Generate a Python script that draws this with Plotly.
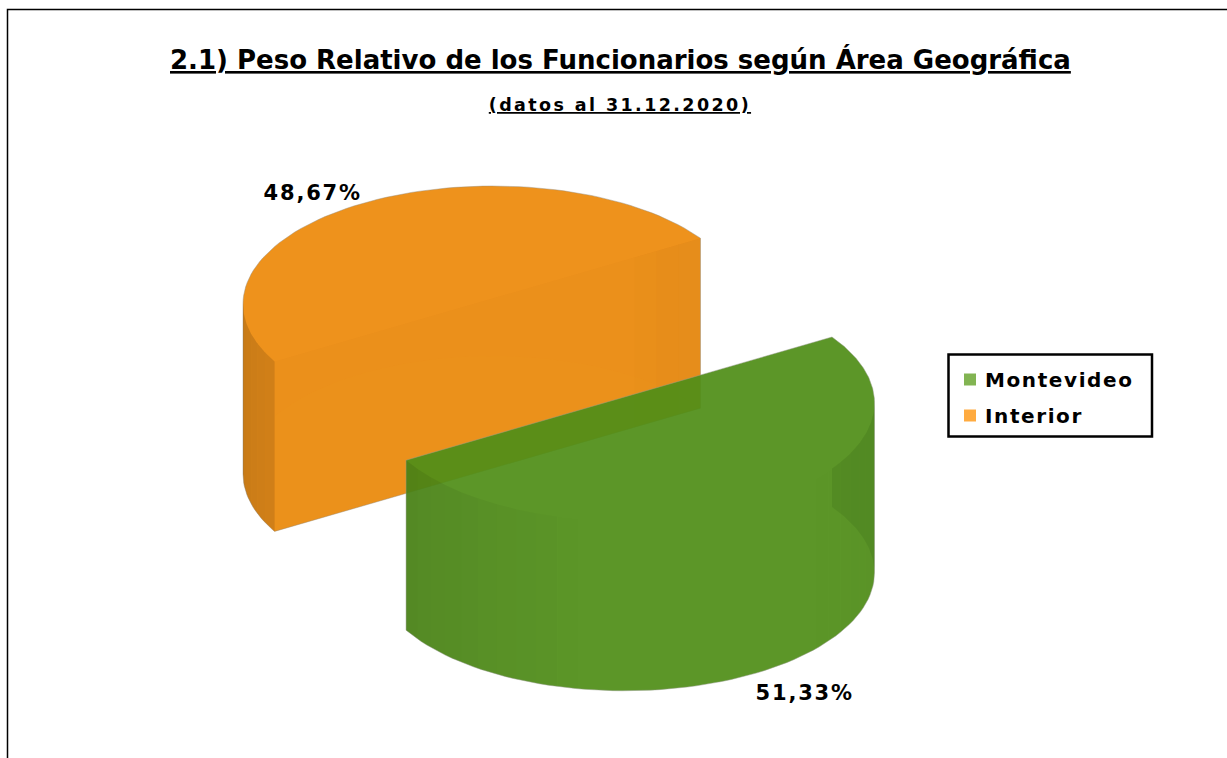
import math
import plotly.graph_objects as go

# Data
categories = ["Montevideo", "Interior"]
values = [51.33, 48.67]
legend_colors = ["#82b452", "#ffab40"]
title_text = "2.1) Peso Relativo de los Funcionarios según Área Geográfica"
subtitle_text = "(datos al 31.12.2020)"

# Pie projection (pixel space of the plot)
W, H = 1227, 758
A, B, DEPTH = 250, 118, 170
START = 33.9
CENTERS = {"Montevideo": (624.5, 402.8), "Interior": (493.0, 304.0)}
total = sum(values)
sweep = {c: v / total * 360 for c, v in zip(categories, values)}
END = START - sweep["Montevideo"]        # left seam, measured clockwise
ORANGE_END = START + sweep["Interior"]   # same seam, measured anticlockwise


def pt(c, deg, dz=0.0):
    t = math.radians(deg)
    return c[0] + A * math.cos(t), c[1] - B * math.sin(t) + dz


def arc(c, a0, a1, dz=0.0, n=70):
    return [pt(c, a0 + (a1 - a0) * i / n, dz) for i in range(n + 1)]


fig = go.Figure()


def poly(points, fill, line=None, width=0):
    xs = [p[0] for p in points] + [points[0][0]]
    ys = [p[1] for p in points] + [points[0][1]]
    fig.add_trace(go.Scatter(
        x=xs, y=ys, mode="lines", fill="toself", fillcolor=fill,
        line=dict(color=line or "rgba(0,0,0,0)", width=width),
        hoverinfo="skip", showlegend=False))


def wall_strips(c, a0, a1, dz, darkness, steps):
    for i in range(steps):
        s0 = a0 + (a1 - a0) * i / steps
        s1 = a0 + (a1 - a0) * (i + 1) / steps
        d = darkness((s0 + s1) / 2)
        if d <= 0:
            continue
        top = arc(c, s0, s1, 0, 4)
        bottom = arc(c, s1, s0, dz, 4)
        poly(top + bottom, f"rgba(0,0,0,{d:.3f})")


# ---------- Interior (orange, behind) ----------
c = CENTERS["Interior"]
poly(arc(c, START, 180) + arc(c, 180, ORANGE_END, DEPTH, 20) + [pt(c, START, DEPTH)],
     "rgb(238,146,28)", "rgba(150,140,125,0.55)", 0.8)
# bottom disc seen through the slice
poly(arc(c, START, 360 - ORANGE_END + 0, DEPTH) + [pt(c, ORANGE_END, DEPTH)],
     "rgba(255,170,40,0.05)")
# seam face
poly([pt(c, ORANGE_END), pt(c, START), pt(c, START, DEPTH), pt(c, ORANGE_END, DEPTH)],
     "rgba(120,70,0,0.02)")
# shaded wall
wall_strips(c, 180, ORANGE_END, DEPTH,
            lambda a: 0.17 - 0.05 * (a - 180) / (ORANGE_END - 180), 6)
# darker end of the seam face
for i, d in enumerate([0.012, 0.022, 0.032]):
    f = lambda x: (x, (x - pt(c, START)[0]) * (pt(c, ORANGE_END)[1] - pt(c, START)[1])
                   / (pt(c, ORANGE_END)[0] - pt(c, START)[0]) + pt(c, START)[1])
    x0 = pt(c, START)[0] - (3 - i) * 22
    x1 = pt(c, START)[0] - (2 - i) * 22
    p0, p1 = f(x0), f(x1)
    poly([p0, p1, (p1[0], p1[1] + DEPTH), (p0[0], p0[1] + DEPTH)], f"rgba(90,60,20,{d})")

# ---------- Montevideo (green, in front) ----------
c = CENTERS["Montevideo"]
poly(arc(c, START, 0) + arc(c, 0, END, DEPTH) + [pt(c, END)],
     "rgba(80,142,24,0.93)", "rgba(150,155,140,0.6)", 0.8)
# shaded front wall
wall_strips(c, END, 0, DEPTH,
            lambda a: max(0.0, 0.085 * (-100 - a) / 51) if a < -100
            else max(0.0, 0.02 * (a + 45) / 45), 30)
# back wall seen through the front wall
poly(arc(c, 0, -START) + arc(c, START, 0, DEPTH), "rgba(20,60,0,0.10)")

# ---------- Frame ----------
fig.add_shape(type="rect", x0=7.5, y0=9.5, x1=W + 60, y1=H + 60,
              line=dict(color="black", width=1.5), fillcolor="rgba(0,0,0,0)")
# Legend box
fig.add_shape(type="rect", x0=948.5, y0=354.5, x1=1152, y1=436.5,
              line=dict(color="black", width=2.5), fillcolor="white", layer="below")

# ---------- Percent labels ----------
label_pos = {"Interior": (312, 193), "Montevideo": (804, 693)}
for cat, val in zip(categories, values):
    fig.add_annotation(x=label_pos[cat][0], y=label_pos[cat][1],
                       text=f"{val:.2f}".replace(".", ",") + "%",
                       showarrow=False,
                       font=dict(family="DejaVu Sans", size=21, color="black", weight=700))

# ---------- Legend entries ----------
for cat, col in zip(categories, legend_colors):
    fig.add_trace(go.Scatter(x=[None], y=[None], mode="markers", name=cat, legendgroup=cat,
                             marker=dict(symbol="square", size=12, color=col)))

fig.add_annotation(x=620, y=59, text=f"<u>{title_text}</u>", showarrow=False,
                   font=dict(family="DejaVu Sans", size=26, color="black", weight=700))
fig.add_annotation(x=620, y=105, text=f"<u>{subtitle_text}</u>", showarrow=False,
                   font=dict(family="DejaVu Sans", size=17.5, color="black", weight=700))

fig.update_layout(
    width=W, height=H, margin=dict(l=0, r=0, t=0, b=0),
    paper_bgcolor="white", plot_bgcolor="white",
    xaxis=dict(range=[0, W], visible=False, fixedrange=True),
    yaxis=dict(range=[H, 0], visible=False, fixedrange=True),
    legend=dict(x=950 / W, y=1 - 360 / H, xanchor="left", yanchor="top",
                bgcolor="rgba(0,0,0,0)", borderwidth=0,
                font=dict(family="DejaVu Sans", size=20, color="black", weight=700),
                itemsizing="constant", itemclick=False, itemdoubleclick=False,
                entrywidth=190, entrywidthmode="pixels", tracegroupgap=7),
)

post = """
document.body.style.margin='0';document.body.style.overflow='hidden';
var gd=document.querySelector('.plotly-graph-div');
gd.querySelectorAll('.annotation-text').forEach(function(t){
  var s=t.textContent;
  t.style.letterSpacing = s.charAt(0)==='(' ? '2.4px' : (s.slice(-1)==='%' ? '1.8px' : '0');
});
gd.querySelectorAll('.legendtext').forEach(function(t){
  t.style.letterSpacing='1.6px';
  t.setAttribute('x','35');
});
gd.querySelectorAll('.legend, .legend .scrollbox').forEach(function(n){
  n.removeAttribute('clip-path');
  n.style.clipPath='none';
});
"""
fig.write_html("out.html", config={"displayModeBar": False}, post_script=post)
